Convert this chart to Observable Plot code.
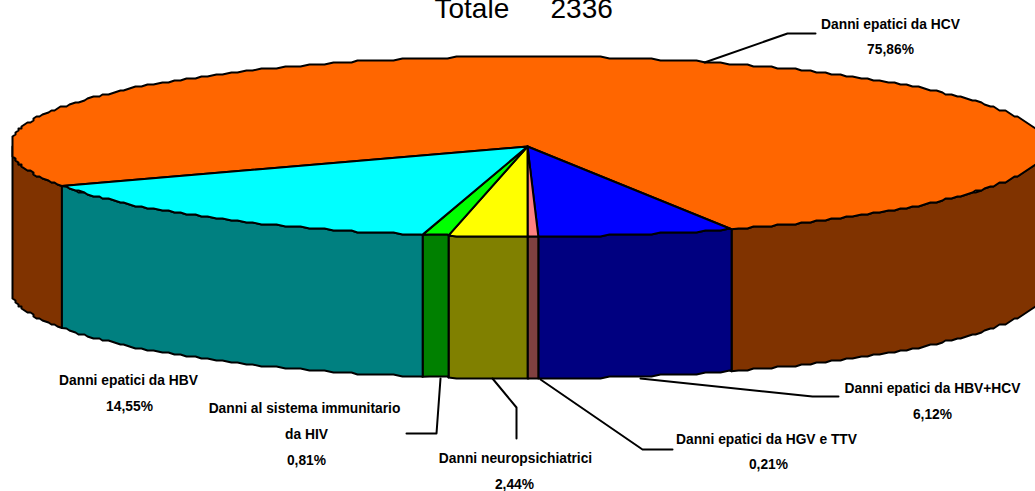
<!DOCTYPE html>
<html><head><meta charset="utf-8">
<script src="https://cdn.jsdelivr.net/npm/d3@7"></script>
<script src="https://cdn.jsdelivr.net/npm/@observablehq/plot@0.6"></script>
<style>html,body{margin:0;padding:0;background:#fff;overflow:hidden}</style>
</head><body><div id="chart"></div>
<script>
// Data (in drawing order, clockwise on screen from the HCV slice)
const categories = ["Danni epatici da HCV","Danni epatici da HBV+HCV","Danni epatici da HGV e TTV","Danni neuropsichiatrici","Danni al sistema immunitario da HIV","Danni epatici da HBV"];
const shares = [75.86, 6.12, 0.33, 2.44, 0.81, 14.55]; // slice sizes
const percentLabels = ["75,86%","6,12%","0,21%","2,44%","0,81%","14,55%"];
const topColors = ["#FF6600","#0000FF","#FF8080","#FFFF00","#00FF00","#00FFFF"];
const sideColors = ["#803300","#000080","#804040","#808000","#008000","#008080"];

// Pie geometry
const W = 1035, H = 491;
const cx = 527, cy = 146, rx = 518, ry = 90, depth = 142, startDeg = 154.0;
const minX = 12, maxX = 1042;
const snap = (v, s) => Math.round(v / s) * s;
const rim = d => {
  const a = d * Math.PI / 180;
  return [Math.min(maxX, Math.max(minX, cx + rx * Math.cos(a))), cy + ry * Math.sin(a)];
};
const rough = ([x, y]) => [Math.min(maxX, Math.max(minX, snap(x, 3))), snap(y, 2)];
function arc(a0, a1) {
  const pts = [rim(a0)];
  for (let d = Math.ceil(a0); d < a1; d += 1) if (d > a0) pts.push(rough(rim(d)));
  pts.push(rim(a1));
  return pts;
}
const total = d3.sum(shares);
let acc = startDeg;
const slices = shares.map((s, i) => {
  const a0 = acc; acc += s / total * 360;
  return {i, a0, a1: acc};
});

const topPts = [], sidePts = [];
slices.forEach(({i, a0, a1}) => {
  [[cx, cy], ...arc(a0, a1), [cx, cy]].forEach(([x, y]) => topPts.push({x, y, id: i, fill: topColors[i]}));
  // visible front wall: parts of the slice between 0 and 180 degrees (mod 360)
  [[a0, a1], [a0 - 360, a1 - 360]].forEach(([p, q], k) => {
    const s0 = Math.max(p, 0), s1 = Math.min(q, 180);
    if (s1 <= s0) return;
    const up = arc(s0, s1);
    const poly = [...up, ...up.slice().reverse().map(([x, y]) => [x, y + depth]), up[0]];
    poly.forEach(([x, y]) => sidePts.push({x, y, id: i + "-" + k, fill: sideColors[i]}));
  });
});

const leaders = [
  {id:"hcv", path:[[704,62],[787,33],[815,33]]},
  {id:"hbvhcv", path:[[640,378],[812,396],[838,396]]},
  {id:"hgv", path:[[540,379],[642,449],[672,449]]},
  {id:"neuro", path:[[492,378],[516,407],[516,438]]},
  {id:"hiv", path:[[440,378],[436,433],[406,433]]}
].flatMap(l => l.path.map(([x, y]) => ({x, y, id: l.id})));

const labels = [
  {t:categories[0], x:890, y:24},
  {t:percentLabels[0], x:890, y:49},
  {t:categories[1], x:932, y:388},
  {t:percentLabels[1], x:932, y:414},
  {t:categories[2], x:766, y:439},
  {t:percentLabels[2], x:768, y:464},
  {t:categories[3], x:515, y:458},
  {t:percentLabels[3], x:514, y:484},
  {t:"Danni al sistema immunitario", x:304, y:408},
  {t:"da HIV", x:306, y:434},
  {t:percentLabels[4], x:306, y:460},
  {t:categories[5], x:128, y:380},
  {t:percentLabels[5], x:129, y:406}
];
const titleParts = [{t:"Totale", x:434},{t:"2336", x:550}];

const plot = Plot.plot({
  width: W, height: H, margin: 0,
  style: {background: "#fff"},
  x: {domain: [0, W], range: [0, W], axis: null},
  y: {domain: [0, H], range: [0, H], axis: null},
  marks: [
    Plot.line(sidePts, {x:"x", y:"y", z:"id", fill:"fill", stroke:"#000", strokeWidth:2, curve:"linear", strokeLinejoin:"round"}),
    Plot.line(topPts, {x:"x", y:"y", z:"id", fill:"fill", stroke:"#000", strokeWidth:2, curve:"linear", strokeLinejoin:"round"}),
    Plot.line(leaders, {x:"x", y:"y", z:"id", stroke:"#000", strokeWidth:2, curve:"linear"}),
    Plot.text(labels, {x:"x", y:"y", text:"t", fontFamily:"'Liberation Sans',Arial,sans-serif", fontWeight:"bold", fontSize:15, fill:"#000", textAnchor:"middle", className:"lab"}),
    Plot.text(titleParts, {x:"x", y:()=>9, text:"t", fontFamily:"'Liberation Sans',Arial,sans-serif", fontSize:28, fill:"#000", textAnchor:"start"})
  ]
});
document.getElementById("chart").appendChild(plot);
// Narrow the label glyphs: the reference uses a condensed bold face
plot.querySelectorAll(".lab text").forEach(t => {
  t.setAttribute("textLength", (t.getComputedTextLength() * 0.92).toFixed(1));
  t.setAttribute("lengthAdjust", "spacingAndGlyphs");
});
</script></body></html>
